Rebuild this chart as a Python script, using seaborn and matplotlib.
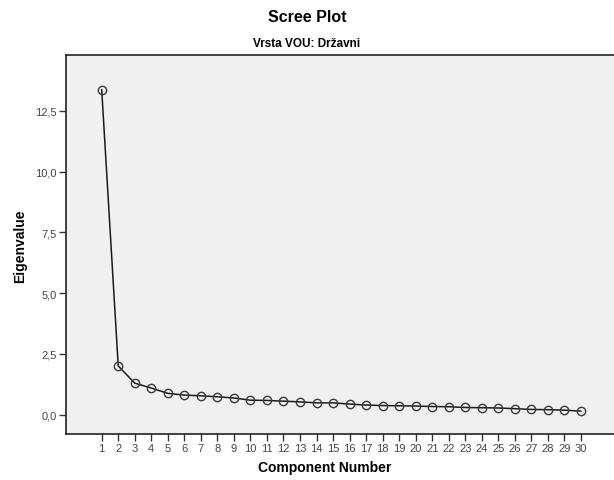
import matplotlib
matplotlib.use("Agg")
import matplotlib.pyplot as plt
import seaborn as sns
import pandas as pd

# Eigenvalues of the 30 extracted components
components = list(range(1, 31))
eigenvalues = [13.37, 2.01, 1.30, 1.10, 0.88, 0.81, 0.78, 0.74, 0.69, 0.60,
               0.59, 0.56, 0.53, 0.49, 0.49, 0.44, 0.40, 0.38, 0.37, 0.36,
               0.34, 0.33, 0.30, 0.29, 0.28, 0.25, 0.22, 0.21, 0.19, 0.15]
y_ticks = [0.0, 2.5, 5.0, 7.5, 10.0, 12.5]
y_tick_labels = ["0,0", "2,5", "5,0", "7,5", "10,0", "12,5"]

df = pd.DataFrame({"Component Number": components, "Eigenvalue": eigenvalues})

sns.set_theme(style="white")
plt.rcParams["font.family"] = ["Liberation Sans", "DejaVu Sans"]

fig = plt.figure(figsize=(6.14, 4.81), dpi=100)
ax = fig.add_axes([66 / 614, 1 - 435 / 481, 1 - 66 / 614, (435 - 56) / 481])
ax.set_facecolor("#f0f0f0")

sns.lineplot(data=df, x="Component Number", y="Eigenvalue", ax=ax,
             color="#1a1a1a", linewidth=1.1, marker="o", markersize=6,
             markerfacecolor="none", markeredgecolor="#3a3a3a",
             markeredgewidth=1.0)

ax.set_xlim(-1.16, 32.0)
ax.set_ylim(-0.79, 14.79)
ax.set_xticks(components)
ax.set_xticklabels([str(c) for c in components])
ax.set_yticks(y_ticks)
ax.set_yticklabels(y_tick_labels)
ax.tick_params(axis="both", which="major", direction="out", length=5,
               width=1.0, color="#333333", labelsize=8, labelcolor="#444444",
               pad=1.5, left=True, bottom=True)

for side in ["left", "bottom", "top"]:
    ax.spines[side].set_visible(True)
    ax.spines[side].set_color("#222222")
    ax.spines[side].set_linewidth(1.2)
ax.spines["right"].set_visible(False)

ax.set_xlabel("")
ax.set_ylabel("")
fig.text(20 / 614, 1 - 246 / 481, "Eigenvalue", rotation=90, ha="center",
         va="center", fontsize=10, fontweight="bold", color="#000000")
fig.text(325 / 614, 1 - 468 / 481, "Component Number", ha="center",
         va="center", fontsize=10, fontweight="bold", color="#000000")
fig.text(307 / 614, 1 - 17 / 481, "Scree Plot", ha="center", va="center",
         fontsize=11.5, fontweight="bold", color="#000000")
fig.text(307 / 614, 1 - 44 / 481, "Vrsta VOU: Državni", ha="center",
         va="center", fontsize=8.5, fontweight="bold", color="#000000")

fig.savefig("out.png", dpi=100, facecolor="white")
